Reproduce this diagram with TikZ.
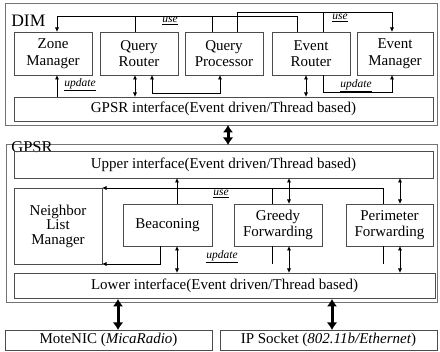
\documentclass[tikz,border=0pt]{standalone}
\usepackage{fontspec}
\setmainfont{Liberation Serif}
\usetikzlibrary{positioning, arrows.meta}

\tikzset{
  box/.style={draw=black!70, line width=0.8pt, inner sep=0pt, outer sep=0pt, align=center, font=\fontsize{15}{16.5}\selectfont},
  frame/.style={draw=black!55, line width=0.9pt, inner sep=0pt, outer sep=0pt},
  lbl/.style={font=\fontsize{11.5}{12}\selectfont\itshape, inner sep=1pt},
  title/.style={font=\fontsize{17.5}{18}\selectfont, inner sep=0pt},
  big/.style={line width=3pt, {Latex[length=7.5pt,width=10.5pt]}-{Latex[length=7.5pt,width=10.5pt]}},
}

\begin{document}
\begin{tikzpicture}[x=1pt, y=1pt, >={Latex[length=4.5pt,width=4pt]}, line width=0.7pt]
		\useasboundingbox (0,0) rectangle (440,-352);

		\node[frame, minimum width=432pt, minimum height=122pt] (dim) at (221,-64) {};
		\node[title, anchor=base west] (dimlbl) at (11,-27) {DIM};
		\node[box, minimum width=78pt, minimum height=43pt] (zone) at (53,-53.5) {Zone\\Manager};
		\node[box, minimum width=78pt, minimum height=43pt] (qrouter) at (139,-53.5) {Query\\Router};
		\node[box, minimum width=78pt, minimum height=43pt] (qproc) at (224,-53.5) {Query\\Processor};
		\node[box, minimum width=78pt, minimum height=43pt] (erouter) at (311,-53.5) {Event\\Router};
		\node[box, minimum width=76pt, minimum height=43pt] (emanager) at (395,-53.5) {Event\\Manager};
		\node[box, minimum width=419pt, minimum height=24pt] (dimif) at (223.5,-109) {GPSR interface(Event driven/Thread based)};

		\node[frame, minimum width=431pt, minimum height=158pt] (gpsr) at (221.5,-223) {};
		\node[title, anchor=base west, font=\fontsize{16.5}{17}\selectfont] (gpsrlbl) at (11,-153) {GPSR};
		\node[box, minimum width=419pt, minimum height=27pt] (upif) at (223.5,-164.5) {Upper interface(Event driven/Thread based)};
		\node[box, minimum width=88pt, minimum height=76pt, font=\fontsize{15}{14.5}\selectfont] (nlm) at (58,-226) {Neighbor\\List\\Manager};
		\node[box, minimum width=89pt, minimum height=42pt] (beacon) at (167.5,-225) {Beaconing};
		\node[box, minimum width=88pt, minimum height=42pt] (greedy) at (278,-225) {Greedy\\Forwarding};
		\node[box, minimum width=87pt, minimum height=42pt] (perim) at (389.5,-225) {Perimeter\\Forwarding};
		\node[box, minimum width=421pt, minimum height=25pt] (lowif) at (224.5,-285.5) {Lower interface(Event driven/Thread based)};

		\node[box, minimum width=207pt, minimum height=20pt] (motenic) at (108.5,-340) {MoteNIC (\textit{MicaRadio})};
		\node[box, minimum width=217pt, minimum height=20pt] (ipsock) at (328.5,-340) {IP Socket (\textit{802.11b/Ethernet})};

		\draw[->] ([xshift=25]erouter.north west) -- ++(0,16) -| ([xshift=43]zone.north west);
		\draw ([xshift=35]qrouter.north west) -- ++(0,16);
		\draw ([xshift=27]qproc.north west) -- ++(0,16);
		\draw[->] ([xshift=52]qproc.north west) -- ++(0,20) -| ([xshift=35]emanager.north west);
		\draw ([xshift=51]erouter.north west) -- ++(0,20);
		\node[lbl] (use1) at (170,-21) {\underline{use}};
		\node[lbl] (use2) at (340,-18) {\underline{use}};

		\draw[<-] ([xshift=43]zone.south west) -- ++(0,-22);
		\draw[<->] ([xshift=35]qrouter.south west) -- ++(0,-22);
		\draw[<->] ([xshift=52]qrouter.south west) -- ++(0,-18) -| ([xshift=35]qproc.south west);
		\draw[<->] ([xshift=34]erouter.south west) -- ++(0,-22);
		\draw[->] ([xshift=51]erouter.south west) -- ++(0,-17) -| ([xshift=35]emanager.south west);
		\node[lbl] (upd1) at (80,-85) {\underline{update}};
		\node[lbl] (upd2) at (356,-86) {\underline{update}};

		\draw[big] ([xshift=7]dim.south) -- ++(0,-20);

		\draw[->] ([xshift=54]beacon.north west) -- ++(0,26);
		\draw[<->] ([xshift=55]greedy.north west) -- ++(0,26);
		\draw[<->] ([xshift=54]perim.north west) -- ++(0,26);
		\draw[->] ([xshift=37]perim.north west) |- (nlm.north east);
		\draw ([xshift=38]greedy.north west) -- ++(0,16);
		\node[lbl] (use3) at (221,-194) {\underline{use}};

		\draw[->] ([xshift=37]beacon.south west) |- (nlm.south east);
		\draw ([xshift=38]greedy.south west) -- ++(0,-18);
		\draw ([xshift=37]perim.south west) -- ++(0,-18);
		\node[lbl] (upd3) at (222,-257) {\underline{update}};

		\draw[<->] ([xshift=54]beacon.south west) -- ++(0,-27);
		\draw[<->] ([xshift=55]greedy.south west) -- ++(0,-27);
		\draw[<->] ([xshift=54]perim.south west) -- ++(0,-27);

		\draw[big] ([xshift=9.5]motenic.north) -- ++(0,31);
		\draw[big] ([xshift=3.5]ipsock.north) -- ++(0,31);
	\end{tikzpicture}
\end{document}
